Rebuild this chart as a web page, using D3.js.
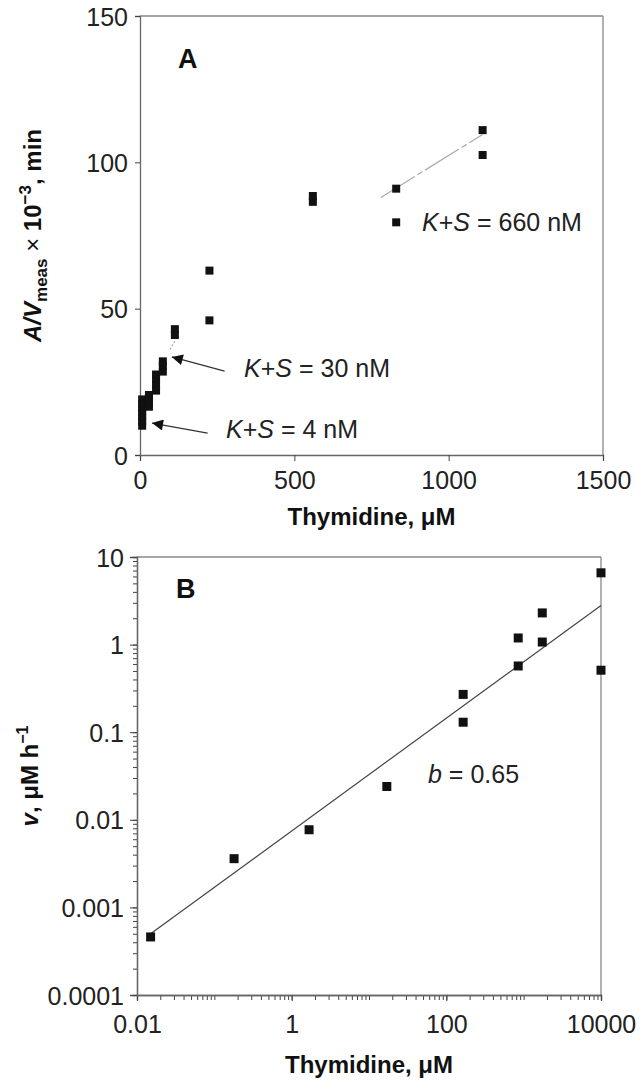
<!DOCTYPE html>
<html><head><meta charset="utf-8">
<script src="https://cdn.jsdelivr.net/npm/d3@7"></script>
<style>body{margin:0;background:#fff}svg{display:block}text{font-family:"Liberation Sans",Arial,sans-serif}</style>
</head><body>
<svg id="c" width="642" height="1081"></svg>
<script>
// ---------- Data ----------
// Panel A: Thymidine (µM) vs A/Vmeas x 10^-3 (min)
const aX = [7, 7, 7, 7, 7, 7, 7, 29, 29, 29, 29, 52, 52, 52, 52, 74, 74, 74, 113, 113, 225, 225, 560, 560, 830, 830, 1110, 1110];
const aY = [10, 11.5, 13, 14.5, 16, 17.5, 19, 16.5, 18, 19.5, 20.5, 22, 24, 26, 27.5, 28.5, 30.5, 32, 41, 43, 46, 63, 86.5, 88.5, 91, 79.5, 102.5, 111];
const aFitX = [780, 1110];
const aFitY = [88, 109.5];
const aFit30X = [97, 116];
const aFit30Y = [36, 39.5];
const aXTicks = [0, 500, 1000, 1500];
const aYTicks = [0, 50, 100, 150];
// Panel B: Thymidine (µM) vs v (µM h^-1), log-log
const bX = [0.015, 0.18, 1.68, 17, 165, 165, 850, 850, 1740, 1740, 10000, 10000];
const bY = [0.00046, 0.0036, 0.0077, 0.024, 0.27, 0.13, 1.19, 0.57, 2.3, 1.07, 6.6, 0.51];
const bFitX = [0.015, 10000];
const bFitY = [0.0005, 2.8];
const bXTickLabels = ["0.01", "1", "100", "10000"];
const bYTickLabels = ["0.0001", "0.001", "0.01", "0.1", "1", "10"];

// ---------- Drawing ----------
const svg = d3.select("#c");
const FS = 25;

// Panel A
const xA = d3.scaleLinear().domain([0, 1500]).range([140, 603]);
const yA = d3.scaleLinear().domain([0, 150]).range([455, 16]);
const gA = svg.append("g");

gA.append("line").attr("x1", xA(0)).attr("x2", xA(1500)).attr("y1", yA(150)).attr("y2", yA(150)).attr("stroke", "#888").attr("stroke-width", 1.3);
gA.append("line").attr("x1", xA(1500)).attr("x2", xA(1500)).attr("y1", yA(150)).attr("y2", yA(0)).attr("stroke", "#888").attr("stroke-width", 1.3);

const axAx = gA.append("g").attr("transform", `translate(0,${yA(0)})`)
  .call(d3.axisBottom(xA).tickValues(aXTicks).tickSize(6).tickPadding(10).tickFormat(d3.format("d")));
const axAy = gA.append("g").attr("transform", `translate(${xA(0)},0)`)
  .call(d3.axisLeft(yA).tickValues(aYTicks).tickSize(5).tickPadding(7).tickFormat(d3.format("d")));
[axAx, axAy].forEach(a => {
  a.select(".domain").attr("stroke", "#666").attr("stroke-width", 1.3);
  a.selectAll(".tick line").attr("stroke", "#444");
  a.selectAll("text").attr("font-size", FS).attr("fill", "#222").attr("font-family", "Liberation Sans, Arial, sans-serif");
});
axAy.selectAll(".tick text").attr("dy", "0.36em");

const lineA = d3.line().x(d => xA(d[0])).y(d => yA(d[1]));
gA.append("path").attr("d", lineA(d3.zip(aFitX, aFitY))).attr("stroke", "#aaa").attr("stroke-width", 1.2).attr("fill", "none").attr("stroke-dasharray", "40,3,6,3");
gA.append("path").attr("d", lineA(d3.zip(aFit30X, aFit30Y))).attr("stroke", "#aaa").attr("stroke-width", 1.2).attr("fill", "none").attr("stroke-dasharray", "2,2");

const S = 8;
gA.selectAll("rect.pa").data(d3.zip(aX, aY)).join("rect").attr("class", "pa")
  .attr("x", d => xA(d[0]) - S / 2).attr("y", d => yA(d[1]) - S / 2).attr("width", S).attr("height", S).attr("fill", "#111");

gA.append("text").attr("x", 178).attr("y", 68).attr("font-size", 27).attr("font-weight", "bold").attr("fill", "#111").text("A");

svg.append("defs").append("marker").attr("id", "ah").attr("viewBox", "0 0 10 10").attr("refX", 10).attr("refY", 5)
  .attr("markerWidth", 20).attr("markerHeight", 11).attr("markerUnits", "userSpaceOnUse").attr("orient", "auto")
  .append("path").attr("d", "M0,0 L10,5 L0,10 Z").attr("fill", "#111");
function arrow(x1, y1, x2, y2) {
  gA.append("line").attr("x1", xA(x1)).attr("y1", yA(y1)).attr("x2", xA(x2)).attr("y2", yA(y2))
    .attr("stroke", "#333").attr("stroke-width", 1.3).attr("marker-end", "url(#ah)");
}
arrow(274, 28.7, 103, 33.5);
arrow(219, 7.5, 39, 10.9);

function ksLabel(x, y, val) {
  const t = gA.append("text").attr("x", x).attr("y", y).attr("font-size", FS).attr("fill", "#222");
  t.append("tspan").attr("font-style", "italic").text("K");
  t.append("tspan").text("+");
  t.append("tspan").attr("font-style", "italic").text("S");
  t.append("tspan").text(" = " + val);
}
ksLabel(244, 377, "30 nM");
ksLabel(226, 438, "4 nM");
ksLabel(422, 231, "660 nM");

gA.append("text").attr("x", xA(750)).attr("y", 525).attr("text-anchor", "middle").attr("font-size", 24)
  .attr("font-weight", "bold").attr("fill", "#111").text("Thymidine, \u03bcM");
{
  const t = gA.append("text").attr("transform", `translate(41,${(yA(0) + yA(150)) / 2}) rotate(-90)`)
    .attr("text-anchor", "middle").attr("font-size", 24).attr("font-weight", "bold").attr("fill", "#111");
  t.append("tspan").attr("font-style", "italic").text("A/V");
  t.append("tspan").attr("font-size", 17).attr("dy", 6).text("meas");
  t.append("tspan").attr("dy", -6).attr("font-weight", "normal").text(" \u00d7 ");
  t.append("tspan").text("10");
  t.append("tspan").attr("font-size", 17).attr("dy", -10).text("\u22123");
  t.append("tspan").attr("dy", 10).text(", min");
}

// Panel B
const xB = d3.scaleLog().domain([0.01, 10000]).range([137, 601]);
const yB = d3.scaleLog().domain([0.0001, 10]).range([995, 557]);
const gB = svg.append("g");

gB.append("line").attr("x1", xB(0.01)).attr("x2", xB(10000)).attr("y1", yB(10)).attr("y2", yB(10)).attr("stroke", "#888").attr("stroke-width", 1.3);
gB.append("line").attr("x1", xB(10000)).attr("x2", xB(10000)).attr("y1", yB(10)).attr("y2", yB(0.0001)).attr("stroke", "#888").attr("stroke-width", 1.3);

const axBxMinor = gB.append("g").attr("transform", `translate(0,${yB(0.0001)})`)
  .call(d3.axisBottom(xB).tickValues(xB.ticks()).tickSize(5).tickFormat(""));
const axBx = gB.append("g").attr("transform", `translate(0,${yB(0.0001)})`)
  .call(d3.axisBottom(xB).tickValues(bXTickLabels.map(Number)).tickSize(6).tickPadding(14).tickFormat(d => bXTickLabels.find(s => +s === d)));
const axByMinor = gB.append("g").attr("transform", `translate(${xB(0.01)},0)`)
  .call(d3.axisLeft(yB).tickValues(yB.ticks()).tickSize(4).tickFormat(""));
const axBy = gB.append("g").attr("transform", `translate(${xB(0.01)},0)`)
  .call(d3.axisLeft(yB).tickValues(bYTickLabels.map(Number)).tickSize(7).tickPadding(6).tickFormat(d => bYTickLabels.find(s => +s === d)));
[axBxMinor, axBx, axByMinor, axBy].forEach(a => {
  a.select(".domain").attr("stroke", "#666").attr("stroke-width", 1.3);
  a.selectAll(".tick line").attr("stroke", "#444");
  a.selectAll("text").attr("font-size", FS).attr("fill", "#222").attr("font-family", "Liberation Sans, Arial, sans-serif");
});
axBy.selectAll(".tick text").attr("dy", "0.36em");

const lineB = d3.line().x(d => xB(d[0])).y(d => yB(d[1]));
gB.append("path").attr("d", lineB(d3.zip(bFitX, bFitY))).attr("stroke", "#444").attr("stroke-width", 1.2).attr("fill", "none");

const SB = 9;
gB.selectAll("rect.pb").data(d3.zip(bX, bY)).join("rect").attr("class", "pb")
  .attr("x", d => xB(d[0]) - SB / 2).attr("y", d => yB(d[1]) - SB / 2).attr("width", SB).attr("height", SB).attr("fill", "#111");

gB.append("text").attr("x", 176).attr("y", 598).attr("font-size", 27).attr("font-weight", "bold").attr("fill", "#111").text("B");

{
  const t = gB.append("text").attr("x", 428).attr("y", 783).attr("font-size", FS).attr("fill", "#222");
  t.append("tspan").attr("font-style", "italic").text("b");
  t.append("tspan").text(" = 0.65");
}

gB.append("text").attr("x", (xB(0.01) + xB(10000)) / 2).attr("y", 1073).attr("text-anchor", "middle").attr("font-size", 24)
  .attr("font-weight", "bold").attr("fill", "#111").text("Thymidine, \u03bcM");
{
  const t = gB.append("text").attr("transform", `translate(38,${(yB(0.0001) + yB(10)) / 2}) rotate(-90)`)
    .attr("text-anchor", "middle").attr("font-size", 24).attr("font-weight", "bold").attr("fill", "#111");
  t.append("tspan").attr("font-style", "italic").text("v");
  t.append("tspan").text(", \u03bcM h");
  t.append("tspan").attr("font-size", 16).attr("dy", -10).text("\u22121");
}
</script>
</body></html>
